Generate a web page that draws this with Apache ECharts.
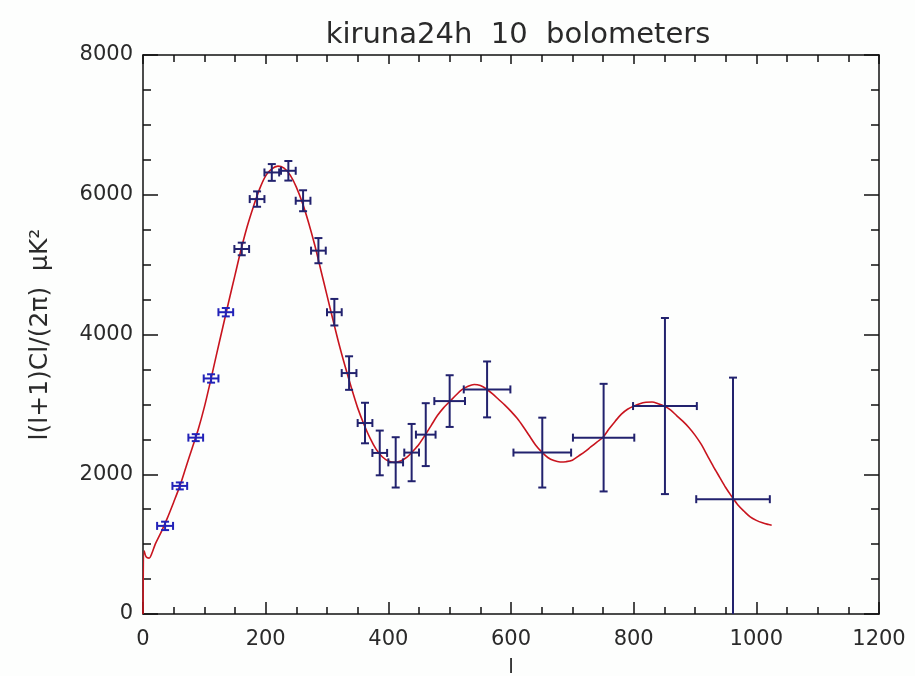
<!DOCTYPE html>
<html>
<head>
<meta charset="utf-8">
<script src="https://cdn.jsdelivr.net/npm/echarts@6/dist/echarts.min.js"></script>
<style>
  html, body { margin: 0; padding: 0; background: #fdfefd; }
  #chart { width: 915px; height: 676px; }
</style>
</head>
<body>
<div id="chart"></div>
<script>
// binned band powers: multipole centre, half bin width, value, 1-sigma error
var binL = [36, 60, 86, 111, 135, 161, 186, 210, 237, 261, 286, 312, 336, 362, 386, 412, 438, 461, 500, 561, 651, 751, 851, 962];
var binHalf = [13, 12, 12, 12, 12, 12, 12, 12, 12, 12, 12, 12, 12, 12, 12, 12, 12, 16, 25, 38, 47, 50, 52, 60];
var binVal = [1261, 1833, 2524, 3371, 4319, 5224, 5938, 6319, 6343, 5914, 5200, 4319, 3448, 2733, 2305, 2170, 2310, 2567, 3047, 3214, 2310, 2524, 2976, 1643];
var binErr = [60, 50, 50, 60, 60, 90, 110, 120, 140, 150, 180, 190, 240, 290, 320, 360, 410, 450, 370, 400, 500, 770, 1260, 1740];

// model spectrum (red curve)
var modelL = [0, 1, 2, 5, 10, 15, 20, 30, 40, 50, 60, 70, 80, 90, 100, 110, 120, 130, 140, 150,
  160, 170, 180, 190, 200, 210, 220, 230, 240, 250, 260, 270, 280, 290, 300, 310, 320, 330, 340, 350,
  360, 370, 380, 390, 400, 410, 420, 430, 440, 450, 460, 470, 480, 490, 500, 510, 520, 530, 540, 550,
  560, 570, 580, 590, 600, 610, 620, 630, 640, 650, 660, 670, 680, 690, 700, 710, 720, 730, 740, 750,
  760, 770, 780, 790, 800, 810, 820, 830, 840, 850, 860, 870, 880, 890, 900, 910, 920, 930, 940, 950,
  960, 970, 980, 990, 1000, 1010, 1020, 1025];
var modelV = [0, 0, 900, 820, 800, 880, 1000, 1180, 1380, 1600, 1830, 2100, 2370, 2640, 2960, 3330, 3720, 4100, 4480, 4850,
  5220, 5550, 5830, 6080, 6270, 6370, 6410, 6380, 6280, 6110, 5880, 5600, 5280, 4920, 4560, 4200, 3850, 3530, 3230, 2950,
  2720, 2520, 2360, 2250, 2190, 2170, 2190, 2240, 2330, 2430, 2560, 2700, 2840, 2950, 3040, 3130, 3210, 3260, 3285, 3270,
  3220, 3150, 3070, 2990, 2900, 2800, 2680, 2550, 2420, 2320, 2240, 2195, 2175, 2180, 2200, 2260, 2320, 2390, 2460, 2530,
  2650, 2760, 2860, 2930, 2975, 3010, 3030, 3035, 3010, 2975, 2920, 2840, 2760, 2670, 2560, 2430, 2270, 2110, 1960, 1810,
  1680, 1560, 1470, 1390, 1340, 1305, 1280, 1270];

var xTicks = { min: 0, max: 1200, interval: 200 };
var yTicks = { min: 0, max: 8000, interval: 2000 };

var chart = echarts.init(document.getElementById('chart'));
var ink = '#111';
var textCol = '#2a2a2a';
var font = 'DejaVu Sans';

function plain(v) { return String(v); }

function axisX(pos) {
  var bottom = pos === 'bottom';
  return {
    type: 'value', position: pos,
    min: xTicks.min, max: xTicks.max, interval: xTicks.interval,
    axisLine: { show: true, onZero: false, lineStyle: { color: ink, width: 1.5 } },
    axisTick: { show: true, inside: true, length: bottom ? 12 : 9, lineStyle: { color: ink, width: 1.5 } },
    minorTick: { show: true, splitNumber: 4, length: 7, lineStyle: { color: ink, width: 1.5 } },
    splitLine: { show: false },
    axisLabel: { show: bottom, color: textCol, fontSize: 21, fontFamily: font, margin: 15, formatter: plain },
    name: bottom ? 'l' : '',
    nameLocation: 'middle', nameGap: 44,
    nameTextStyle: { color: textCol, fontSize: 20, fontFamily: font }
  };
}

function axisY(pos) {
  var left = pos === 'left';
  return {
    type: 'value', position: pos,
    min: yTicks.min, max: yTicks.max, interval: yTicks.interval,
    axisLine: { show: true, onZero: false, lineStyle: { color: ink, width: 1.5 } },
    axisTick: { show: true, inside: true, length: 15, lineStyle: { color: ink, width: 1.5 } },
    minorTick: { show: true, splitNumber: 4, length: 8, lineStyle: { color: ink, width: 1.5 } },
    splitLine: { show: false },
    axisLabel: { show: left, color: textCol, fontSize: 21, fontFamily: font, margin: 10, formatter: plain },
    name: left ? 'l(l+1)Cl/(2\u03c0)  \u03bcK\u00b2' : '',
    nameLocation: 'middle', nameGap: 90,
    nameTextStyle: { color: textCol, fontSize: 25, fontFamily: font }
  };
}

var option = {
  backgroundColor: '#fdfefd',
  animation: false,
  title: {
    text: 'kiruna24h  10  bolometers',
    left: 513, top: 16, textAlign: 'center',
    textStyle: { color: textCol, fontSize: 29, fontWeight: 'normal', fontFamily: font }
  },
  grid: { left: 143, right: 36, top: 55, bottom: 62, containLabel: false, outerBoundsMode: 'none' },
  xAxis: [axisX('bottom'), axisX('top')],
  yAxis: [axisY('left'), axisY('right')],
  series: [
    {
      type: 'line',
      xAxisIndex: 0, yAxisIndex: 0,
      data: modelL.map(function (l, i) { return [l, modelV[i]]; }),
      showSymbol: false,
      smooth: 0.3,
      lineStyle: { color: '#c8141e', width: 1.6 },
      z: 2
    },
    {
      type: 'custom',
      xAxisIndex: 0, yAxisIndex: 0,
      data: binL.map(function (l, i) { return [l, binVal[i], binHalf[i], binErr[i]]; }),
      encode: { x: 0, y: 1 },
      z: 3,
      renderItem: function (params, api) {
        var l = api.value(0), v = api.value(1), dl = api.value(2), dv = api.value(3);
        var c = api.coord([l, v]);
        var xl = api.coord([l - dl, v])[0];
        var xr = api.coord([l + dl, v])[0];
        var yt = api.coord([l, v + dv])[1];
        var lowClipped = v - dv < 0;
        var yb = api.coord([l, Math.max(0, v - dv)])[1];
        var cap = 4;
        var col = l < 150 ? '#2222b8' : '#22226e';
        var st = { stroke: col, lineWidth: 2 };
        var kids = [
          { type: 'line', shape: { x1: xl, y1: c[1], x2: xr, y2: c[1] }, style: st },
          { type: 'line', shape: { x1: c[0], y1: yt, x2: c[0], y2: yb }, style: st },
          { type: 'line', shape: { x1: xl, y1: c[1] - cap, x2: xl, y2: c[1] + cap }, style: st },
          { type: 'line', shape: { x1: xr, y1: c[1] - cap, x2: xr, y2: c[1] + cap }, style: st },
          { type: 'line', shape: { x1: c[0] - cap, y1: yt, x2: c[0] + cap, y2: yt }, style: st }
        ];
        if (!lowClipped) {
          kids.push({ type: 'line', shape: { x1: c[0] - cap, y1: yb, x2: c[0] + cap, y2: yb }, style: st });
        }
        return { type: 'group', children: kids };
      }
    }
  ]
};
chart.setOption(option);
</script>
</body>
</html>
